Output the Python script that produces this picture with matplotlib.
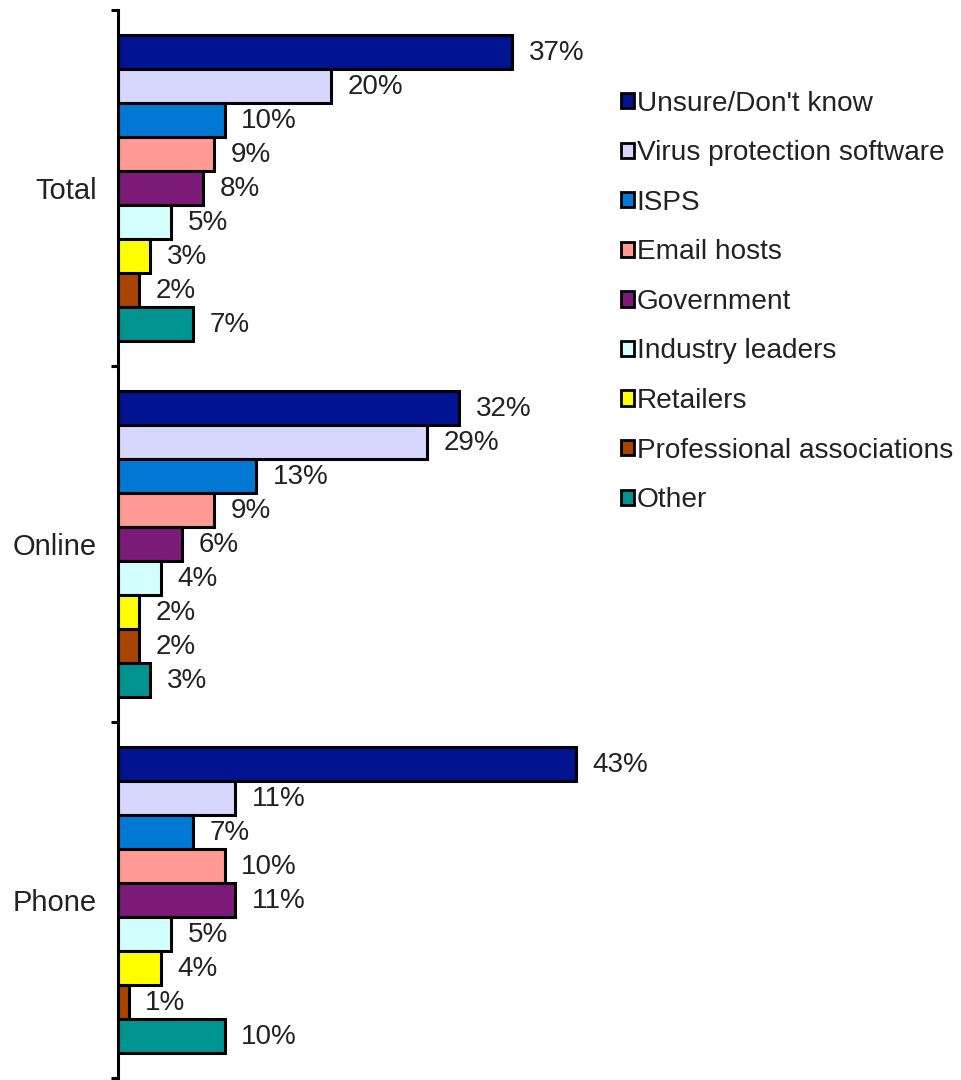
import numpy as np
import matplotlib
matplotlib.use("Agg")
import matplotlib.pyplot as plt
from matplotlib.patches import Patch

plt.rcParams['font.family'] = ['Liberation Sans', 'DejaVu Sans']

groups = ['Total', 'Online', 'Phone']
series = ['Unsure/Don\'t know', 'Virus protection software', 'ISPS', 'Email hosts',
          'Government', 'Industry leaders', 'Retailers', 'Professional associations', 'Other']
total = [37, 20, 10, 9, 8, 5, 3, 2, 7]
online = [32, 29, 13, 9, 6, 4, 2, 2, 3]
phone = [43, 11, 7, 10, 11, 5, 4, 1, 10]
colors = ['#001391', '#D6D6FF', '#0078D4', '#FF9A94', '#7B1B77',
          '#D4FFFF', '#FFFF00', '#A84400', '#009490']

values = np.array([total, online, phone])

fig = plt.figure(figsize=(9.61, 10.8), dpi=100)
ax = fig.add_axes([0.1228, 0.0019, 0.665, 0.9888])

n = len(series)
h = 0.0955
y0 = np.arange(len(groups))
for i in range(n):
    ypos = y0 - (n - 1) / 2 * h + i * h
    bars = ax.barh(ypos, values[:, i], height=h, color=colors[i],
                   edgecolor='black', linewidth=2.2, label=series[i])
    for rect, v in zip(bars, values[:, i]):
        ax.annotate(f'{v}%', xy=(rect.get_width(), rect.get_y() + h / 2),
                    xytext=(12, -1), textcoords='offset points',
                    ha='left', va='center', fontsize=20, color='#222222')

ax.set_xlim(0, 60)
ax.set_ylim(2.5, -0.5)

for s in ['top', 'right', 'bottom']:
    ax.spines[s].set_visible(False)
ax.spines['left'].set_linewidth(2.2)
ax.set_xticks([])

ax.set_yticks([-0.5, 0.5, 1.5, 2.5])
ax.set_yticklabels([])
ax.tick_params(axis='y', which='major', length=5, width=2.2)
ax.set_yticks(y0, minor=True)
ax.set_yticklabels(groups, minor=True, fontsize=21, color='#222222')
ax.tick_params(axis='y', which='minor', length=0, pad=15)

handles = [Patch(facecolor=c, edgecolor='black', linewidth=2) for c in colors]
fig.legend(handles, series, loc='center left', bbox_to_anchor=(0.646, 0.7205),
           frameon=False, fontsize=20.2, handlelength=0.46, handleheight=0.46,
           handletextpad=0.1, labelspacing=0.84, borderpad=0, borderaxespad=0,
           labelcolor='#222222')

fig.savefig('out.png', dpi=100)
